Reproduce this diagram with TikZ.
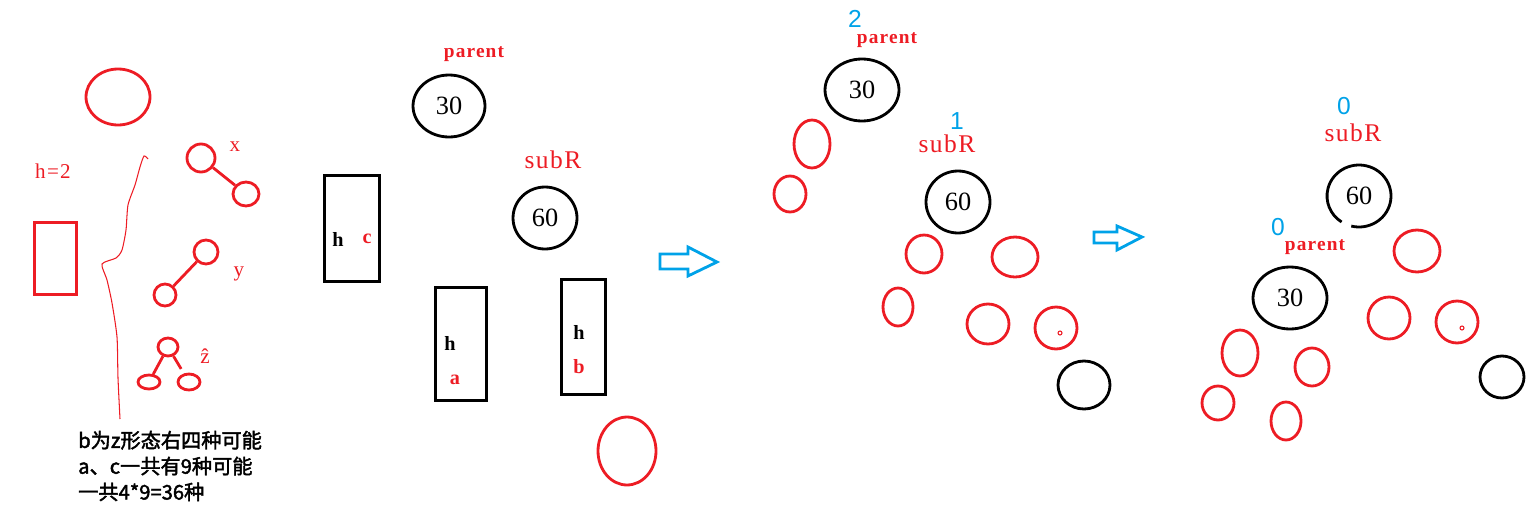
\documentclass[tikz,border=0pt]{standalone}
\usepackage{fontspec}
\setmainfont{Liberation Serif}
\setsansfont{Liberation Sans}
\newfontfamily\simfont[LetterSpace=6]{Liberation Serif}
\newfontfamily\cjk[AutoFakeBold=2]{Noto Sans CJK SC}
\usepackage{tikz}
\usetikzlibrary{shapes.geometric, positioning}
\definecolor{paintred}{HTML}{ED1C24}
\definecolor{paintblue}{HTML}{00A2E8}

\begin{document}
\begin{tikzpicture}[
  x=0.02cm, y=-0.02cm,
  ring/.style 2 args={ellipse, draw, line width=1.6pt, inner sep=0pt,
    minimum width=#1*0.4mm, minimum height=#2*0.4mm},
  redring/.style 2 args={ring={#1}{#2}, draw=paintred},
  blackring/.style 2 args={ring={#1}{#2}, draw=black},
  keyring/.style 2 args={ring={#1}{#2}, draw=black,
    font=\fontsize{15}{15}\selectfont},
  box/.style 2 args={draw, line width=1.6pt, inner sep=0pt,
    minimum width=#1*0.2mm, minimum height=#2*0.2mm},
  twig/.style={draw=paintred, line width=1.6pt},
  dot/.style={circle, draw=paintred, line width=0.6pt,
    minimum size=0.08cm, inner sep=0pt},
  tag/.style={text=paintred, inner sep=0.5pt,
    font=\simfont\bfseries\fontsize{11}{11}\selectfont},
  subtag/.style={text=paintred, inner sep=0.5pt,
    font=\simfont\fontsize{14.5}{14.5}\selectfont},
  level/.style={text=paintblue, inner sep=0.5pt,
    font=\sffamily\fontsize{14}{14}\selectfont},
  note/.style={text=paintred, inner sep=0.5pt,
    font=\simfont\fontsize{12}{12}\selectfont},
  hmark/.style={inner sep=0.5pt, font=\simfont\bfseries\fontsize{11.5}{11.5}\selectfont},
  hollow/.style={draw=paintblue, line width=1.6pt, line join=miter}
]
\useasboundingbox (0,0) rectangle (1530,507);

% ---- Panel 1: the shapes of b ----
\node[redring={32}{28}] (top) at (118,97) {};
\node[note] (hlabel) at (53,171) {h=2};
\node[box={42}{72}, draw=paintred] (hbox) at (55.5,258.5) {};

\draw[paintred, line width=0.6pt] plot[smooth, tension=0.4] coordinates {
  (148,159) (144,156) (140,167) (135,185) (128,205) (126,230)
  (122,250) (116,258) (102,264) (107,280) (112,303) (117,337)
  (118,378) (120,419)};

\node[redring={14}{14}] (x1) at (201,158) {};
\node[redring={13}{12}] (x2) at (246,194) {};
\draw[twig] (x1) -- (x2);
\node[note] (xlabel) at (235,147) {x};

\node[redring={12}{12}] (y1) at (206,252) {};
\node[redring={11}{11}] (y2) at (165,295) {};
\draw[twig] (y1) -- (y2);
\node[note] (ylabel) at (239,274) {y};

\node[redring={10}{9}] (z0) at (168,347) {};
\node[redring={11}{7}] (z1) at (149,382) {};
\node[redring={11}{8}] (z2) at (189,382) {};
\draw[twig] (z0) -- (z1);
\draw[twig, shorten >=3pt] (z0) -- (z2);
\node[note] (zlabel) at (205,356) {\^{z}};

\node[anchor=west, align=left, font=\cjk\bfseries\fontsize{11.5}{14.7}\selectfont]
  (count) at (72,466) {b为z形态右四种可能\\a、c一共有9种可能\\一共4*9=36种};

% ---- Panel 2: parent, subR and the heights ----
\node[tag] (par1) at (474,54) {parent};
\node[keyring={36}{31}] (p30a) at (449,106) {30};
\node[subtag] (sub1) at (553,160) {subR};
\node[keyring={32}{31}] (s60a) at (545,218) {60};

\node[box={55}{106}] (boxc) at (352,228.5) {};
\node[hmark] (hc) at (338,239) {h};
\node[hmark, text=paintred] (cc) at (367,239) {c};

\node[box={51}{113}] (boxa) at (461,344) {};
\node[hmark] (ha) at (450,343) {h};
\node[hmark, text=paintred] (aa) at (455,380) {a};

\node[box={44}{115}] (boxb) at (583.5,337) {};
\node[hmark] (hb) at (579,332) {h};
\node[hmark, text=paintred] (bb) at (579,367) {b};

\node[redring={29}{34}] (lone) at (627,451) {};

% ---- Arrow 1 ----
\draw[hollow] (660,254) -- (688,254) -- (688,247) -- (717,262)
  -- (688,276) -- (688,269) -- (660,269) -- cycle;

% ---- Panel 3: before the rotation ----
\node[level] (lv2) at (855,19) {2};
\node[tag] (par2) at (887,40) {parent};
\node[keyring={37}{31}] (p30b) at (862,90) {30};
\node[redring={18}{24}] (pl1) at (812,144) {};
\node[redring={16}{18}] (pl2) at (790,194) {};
\node[level] (lv1) at (957,121) {1};
\node[subtag] (sub2) at (947,144) {subR};
\node[keyring={32}{31}] (s60b) at (958,202) {60};
\node[redring={18}{19}] (sl1) at (924,254) {};
\node[redring={23}{20}] (sr1) at (1015,257) {};
\node[redring={15}{19}] (sl2) at (898,307) {};
\node[redring={21}{20}] (sr2) at (988,324) {};
\node[redring={21}{21}] (sr3) at (1056,328) {};
\node[dot] (spot1) at (1060,333) {};
\node[blackring={26}{24}] (new1) at (1084,385) {};

% ---- Arrow 2 ----
\draw[hollow] (1094,232) -- (1117,232) -- (1117,226) -- (1142,237)
  -- (1117,250) -- (1117,243) -- (1094,243) -- cycle;

% ---- Panel 4: after the rotation ----
\node[level] (lv0a) at (1344,106) {0};
\node[subtag] (sub3) at (1353,133) {subR};
\node[keyring={32}{31}, draw=none] (s60c) at (1359,196) {60};
\draw[black, line width=1.6pt] (s60c.center) ++(256:0.64cm and 0.62cm)
  arc[start angle=256, end angle=597, x radius=0.64cm, y radius=0.62cm];
\node[level] (lv0b) at (1278,227) {0};
\node[tag] (par3) at (1315,247) {parent};
\node[keyring={37}{31}] (p30c) at (1290,298) {30};
\node[redring={23}{21}] (tr1) at (1417,251) {};
\node[redring={21}{21}] (tr2) at (1389,318) {};
\node[redring={21}{21}] (tr3) at (1457,322) {};
\node[dot] (spot2) at (1462,328) {};
\node[blackring={22}{21}] (new2) at (1502,377) {};
\node[redring={18}{23}] (tl1) at (1240,353) {};
\node[redring={17}{19}] (tl2) at (1312,367) {};
\node[redring={16}{17}] (tl3) at (1218,403) {};
\node[redring={15}{19}] (tl4) at (1286,421) {};

\end{tikzpicture}
\end{document}
